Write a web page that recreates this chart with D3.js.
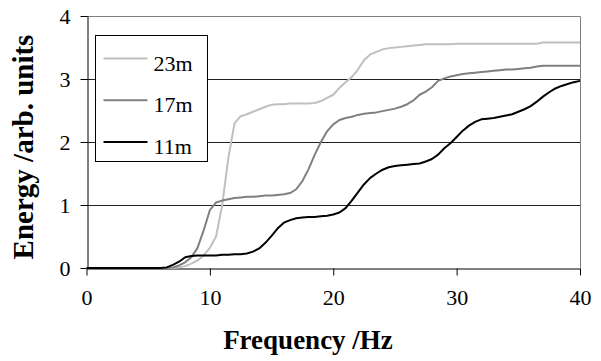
<!DOCTYPE html>
<html>
<head>
<meta charset="utf-8">
<script src="https://cdn.jsdelivr.net/npm/d3@7"></script>
<style>
  body { margin: 0; background: #fff; }
</style>
</head>
<body>
<svg id="chart" width="601" height="361"></svg>
<script>
// frequency samples (Hz), shared by all three series
const freq = d3.range(0, 40.01, 0.5);

const e11 = [
  0, 0, 0, 0, 0, 0, 0, 0, 0, 0, 0, 0, 0,
  0.01, 0.05, 0.1, 0.17, 0.19, 0.2, 0.2, 0.2, 0.2, 0.21, 0.21, 0.22, 0.22,
  0.23, 0.26, 0.31, 0.4, 0.51, 0.63, 0.72, 0.76, 0.79, 0.8, 0.81, 0.81, 0.82, 0.83,
  0.85, 0.88, 0.95, 1.07, 1.2, 1.33, 1.43, 1.5, 1.56, 1.6, 1.62, 1.63, 1.64, 1.65,
  1.66, 1.69, 1.73, 1.8, 1.9, 1.98, 2.08, 2.18, 2.26, 2.32, 2.36, 2.37, 2.38, 2.4,
  2.42, 2.44, 2.48, 2.52, 2.57, 2.64, 2.72, 2.79, 2.85, 2.89, 2.92, 2.95, 2.97
];

const e17 = [
  0, 0, 0, 0, 0, 0, 0, 0, 0, 0, 0, 0, 0, 0,
  0.01, 0.04, 0.09, 0.17, 0.32, 0.6, 0.92, 1.04, 1.07, 1.09, 1.11, 1.12, 1.13,
  1.13, 1.14, 1.15, 1.15, 1.16, 1.17, 1.19, 1.25, 1.38, 1.57, 1.8, 2.0, 2.17,
  2.28, 2.35, 2.38, 2.4, 2.43, 2.45, 2.46, 2.47, 2.49, 2.51, 2.53, 2.56, 2.6, 2.66,
  2.75, 2.8, 2.87, 2.97, 3.01, 3.04, 3.06, 3.08, 3.09, 3.1, 3.11, 3.12, 3.13, 3.14,
  3.15, 3.15, 3.16, 3.17, 3.18, 3.2, 3.21, 3.21, 3.21, 3.21, 3.21, 3.21, 3.21
];

const e23 = [
  0, 0, 0, 0, 0, 0, 0, 0, 0, 0, 0, 0, 0, 0, 0,
  0.01, 0.03, 0.07, 0.12, 0.2, 0.32, 0.5, 1.0, 1.75, 2.3, 2.41, 2.44, 2.48, 2.52,
  2.56, 2.59, 2.6, 2.6, 2.61, 2.61, 2.61, 2.61, 2.62, 2.65, 2.7, 2.75, 2.86, 2.95,
  3.03, 3.15, 3.3, 3.39, 3.43, 3.47, 3.49, 3.5, 3.51, 3.52, 3.53, 3.54, 3.55, 3.55,
  3.55, 3.55, 3.55, 3.56, 3.56, 3.56, 3.56, 3.56, 3.56, 3.56, 3.56, 3.56, 3.56, 3.56,
  3.56, 3.56, 3.56, 3.58, 3.58, 3.58, 3.58, 3.58, 3.58, 3.58
];

const seriesNames = ['23m', '17m', '11m'];
const seriesData = [e23, e17, e11];
const seriesColors = ['#c0c0c0', '#808080', '#000000'];

const xTicks = [0, 10, 20, 30, 40];
const yTicks = [0, 1, 2, 3, 4];

const FONT = '"Liberation Serif", "Times New Roman", serif';

const svg = d3.select('#chart');
const margin = {top: 16, left: 86.5, right: 21, bottom: 93};
const width = 601 - margin.left - margin.right;
const height = 361 - margin.top - margin.bottom;

const x = d3.scaleLinear().domain([0, 40]).range([margin.left, margin.left + width]);
const y = d3.scaleLinear().domain([0, 4]).range([margin.top + height, margin.top]);

// gridlines
svg.append('g')
  .selectAll('line')
  .data([1, 2, 3])
  .join('line')
    .attr('x1', x(0)).attr('x2', x(40))
    .attr('y1', d => Math.round(y(d)) + 0.5).attr('y2', d => Math.round(y(d)) + 0.5)
    .attr('stroke', '#222').attr('stroke-width', 1);

// top and right border
svg.append('path')
  .attr('d', `M${x(0)},${Math.round(y(4)) + 0.5}H${Math.round(x(40)) + 0.5}V${y(0)}`)
  .attr('fill', 'none')
  .attr('stroke', '#808080');

const xAxis = svg.append('g')
  .attr('transform', `translate(0,${Math.round(y(0)) + 0.5})`)
  .call(d3.axisBottom(x).tickValues(xTicks).tickFormat(d3.format('d'))
    .tickSize(7).tickSizeOuter(0).tickPadding(14));

const yAxis = svg.append('g')
  .attr('transform', `translate(${Math.round(x(0)) + 0.5},0)`)
  .call(d3.axisLeft(y).tickValues(yTicks).tickFormat(d3.format('d'))
    .tickSize(7).tickSizeOuter(0).tickPadding(10));

[xAxis, yAxis].forEach(a => {
  a.select('.domain').attr('stroke', '#000');
  a.selectAll('.tick line').attr('stroke', '#000');
  a.selectAll('.tick text')
    .style('font-family', FONT)
    .style('font-size', '22px')
    .attr('fill', '#000');
});

const line = d3.line()
  .x((d, i) => x(freq[i]))
  .y(d => y(d));

// draw black on top
seriesData.forEach((vals, k) => {
  svg.append('path')
    .datum(vals)
    .attr('fill', 'none')
    .attr('stroke', seriesColors[k])
    .attr('stroke-width', 2)
    .attr('stroke-linejoin', 'round')
    .attr('d', line);
});

// legend
const legend = svg.append('g').attr('transform', 'translate(95.5,35.5)');
legend.append('rect')
  .attr('width', 112).attr('height', 126)
  .attr('fill', '#fff').attr('stroke', '#000');

seriesNames.forEach((name, k) => {
  const cy = 23 + k * 41.7;
  legend.append('line')
    .attr('x1', 8).attr('x2', 52)
    .attr('y1', cy).attr('y2', cy)
    .attr('stroke', seriesColors[k]).attr('stroke-width', 2);
  legend.append('text')
    .attr('x', 58).attr('y', cy + 12)
    .style('font-family', FONT)
    .style('font-size', '22px')
    .text(name);
});

// axis titles
svg.append('text')
  .attr('x', 308).attr('y', 349)
  .attr('text-anchor', 'middle')
  .style('font-family', FONT)
  .style('font-size', '27px')
  .style('font-weight', 'bold')
  .text('Frequency /Hz');

svg.append('text')
  .attr('transform', 'translate(33,147) rotate(-90)')
  .attr('text-anchor', 'middle')
  .style('font-family', FONT)
  .style('font-size', '29px')
  .style('font-weight', 'bold')
  .text('Energy /arb. units');
</script>
</body>
</html>
